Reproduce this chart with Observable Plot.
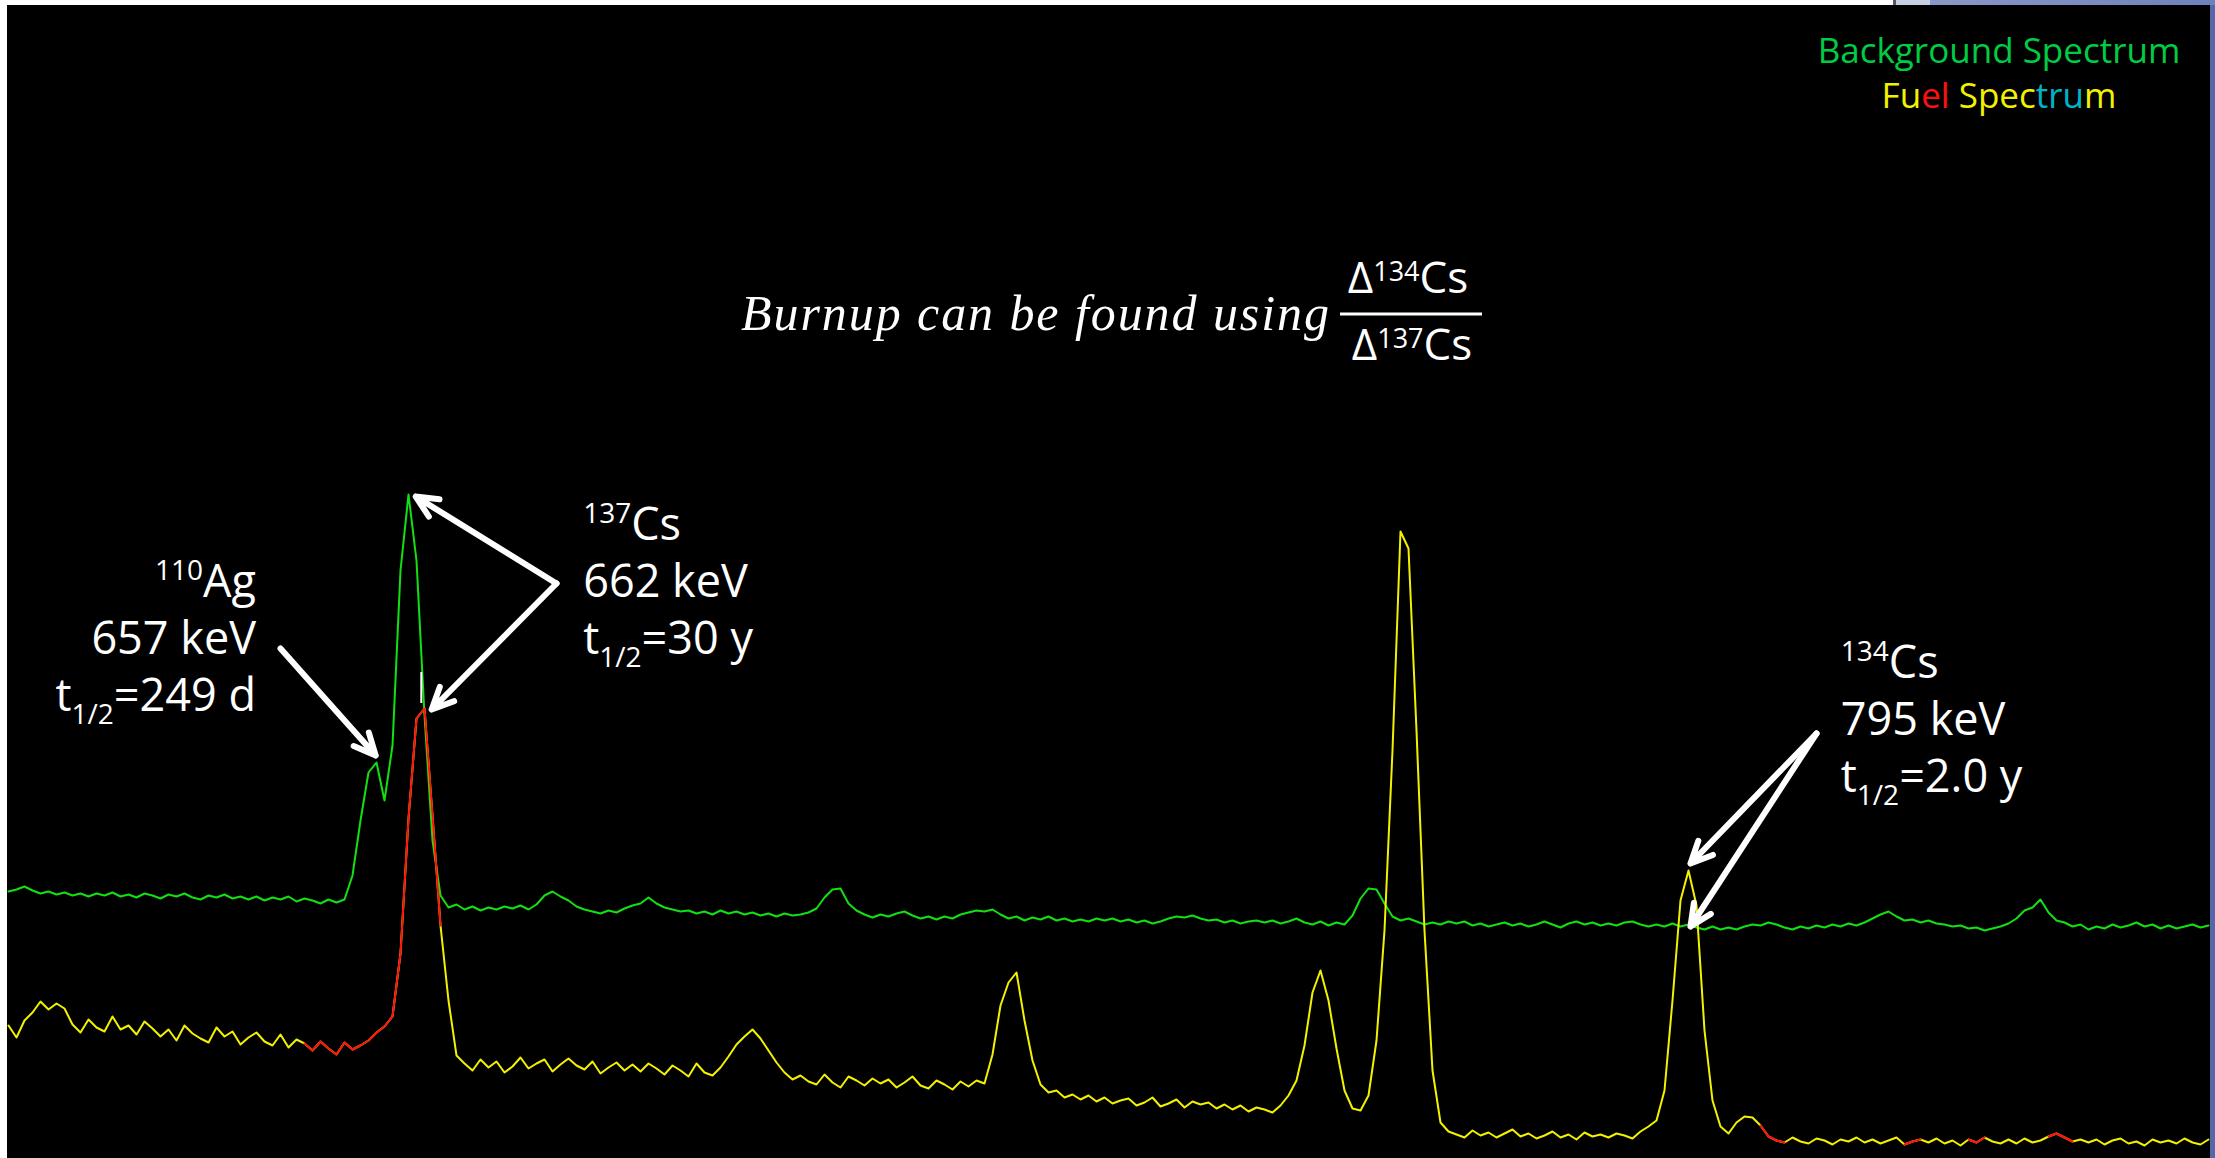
<!DOCTYPE html>
<html>
<head>
<meta charset="utf-8">
<script src="https://cdn.jsdelivr.net/npm/d3@7"></script>
<script src="https://cdn.jsdelivr.net/npm/@observablehq/plot@0.6"></script>
<style>
  html, body { margin: 0; padding: 0; background: #ffffff; }
  #wrap { position: relative; width: 2215px; height: 1158px; overflow: hidden; }
  #wrap svg { display: block; }
  .edge { position: absolute; }
  #edgeRight { right: 0; top: 0; width: 5px; height: 1158px; background: #5567a8; }
  #edgeTopA { left: 1893px; top: 0; width: 3px; height: 5px; background: #55585f; }
  #edgeTopB { left: 1896px; top: 0; width: 34px; height: 5px; background: #c7cfe4; }
  #edgeTopC { left: 1930px; top: 0; width: 285px; height: 5px; background: linear-gradient(90deg, #8a98c6, #6f81bb); }
</style>
</head>
<body>
<div id="wrap"></div>
<script>
// ---------------- DATA ----------------
// Background spectrum (green), counts per channel (arbitrary units)
const backgroundCounts = [
  267,269,272,268,265,267,264,266,263,265,
  262,265,263,266,262,264,261,265,263,260,
  264,262,265,261,259,263,261,264,260,262,
  259,262,258,261,259,262,257,260,258,255,
  259,256,259,283,338,386,396,358,413,588,
  664,598,443,318,263,251,254,249,252,248,
  251,249,252,250,253,249,254,263,267,262,
  258,252,249,247,245,248,246,250,253,255,
  261,255,251,249,247,248,245,247,244,248,
  245,247,244,246,243,245,242,245,243,244,
  246,250,261,269,270,255,248,244,241,244,
  242,245,247,243,240,242,239,242,240,244,
  246,248,247,249,244,240,242,238,241,239,
  242,238,240,237,239,237,240,238,240,237,
  239,236,238,235,237,240,242,241,243,240,
  238,239,236,238,235,237,238,236,238,235,
  237,240,236,234,237,233,236,234,243,260,
  270,269,255,242,238,240,237,234,236,234,
  237,235,237,233,235,232,234,236,233,235,
  232,234,237,234,231,235,237,234,236,233,
  235,233,236,237,234,232,234,232,235,232,
  234,231,229,232,229,231,229,232,234,233,
  236,234,231,229,232,230,233,231,234,232,
  235,233,236,240,244,247,242,238,239,236,
  238,235,234,232,233,230,231,228,230,232,
  235,240,248,251,259,246,238,236,232,234,
  229,232,230,234,231,233,236,232,234,230,
  233,230,232,234,231,233
];

// Fuel spectrum (yellow), counts per channel (arbitrary units)
const fuelCounts = [
  133,121,138,146,157,149,155,150,134,126,
  139,131,127,142,129,133,124,137,130,122,
  129,118,133,125,120,116,131,122,127,114,
  121,126,117,113,124,111,119,115,108,117,
  110,104,116,109,113,118,126,132,142,205,
  340,440,450,343,233,158,103,95,88,99,
  91,97,86,92,101,90,95,99,87,94,
  100,93,89,97,85,91,96,88,94,87,
  95,90,84,93,88,82,95,86,83,91,
  102,114,122,129,120,108,96,86,79,83,
  77,74,84,76,71,82,78,73,80,75,
  79,71,76,82,73,70,78,74,69,77,
  72,78,75,104,153,176,186,138,98,74,
  66,68,61,64,59,63,57,61,55,58,
  60,53,56,61,52,55,59,51,57,54,
  56,50,54,49,53,47,51,49,46,53,
  63,78,113,166,188,158,110,68,50,48,
  63,118,228,408,627,610,428,228,88,36,
  27,24,21,28,23,26,21,25,29,22,
  25,20,23,27,21,24,19,26,22,24,
  21,25,23,20,27,32,38,68,158,258,
  288,253,128,58,32,25,36,42,41,33,
  22,18,16,21,17,15,20,18,14,19,
  17,21,16,19,15,18,21,14,17,19,
  16,20,15,18,13,19,16,21,17,15,
  19,15,20,16,18,22,25,21,17,19,
  16,19,14,18,20,15,17,13,19,16,
  18,15,20,16,14,19
];

// Regions of interest of the fuel spectrum (shown in red), channel ranges
const fuelRoiStart = [37, 219, 237, 245, 255];
const fuelRoiEnd   = [54, 222, 239, 247, 258];

// Cursor mark on the 662 keV peak
const cursorChannel = [51.6];
const cursorLow = [455];
const cursorHigh = [486];

// Peak annotations
const isotopeMass    = ["110", "137", "134"];
const isotopeElement = ["Ag", "Cs", "Cs"];
const gammaEnergy    = ["657 keV", "662 keV", "795 keV"];
const halfLife       = ["249 d", "30 y", "2.0 y"];
const labelChannel   = [31, 71.9, 229.1];
const labelCount     = [561, 618, 480];

// Annotation arrows (from label to peak), channel / counts
const arrowFromChannel = [34, 68.5, 68.5, 226, 226];
const arrowFromCount   = [510, 575, 575, 425, 425];
const arrowToChannel   = [45.9, 50.9, 52.9, 210.25, 210.25];
const arrowToCount     = [403, 662, 449, 295, 232];

// Legend
const legendBackground = "Background Spectrum";
const legendFuelParts  = ["Fu", "el", " Spec", "tru", "m"];

// Formula
const formulaText = "Burnup can be found using";
const formulaNumerator = ["Δ", "134", "Cs"];
const formulaDenominator = ["Δ", "137", "Cs"];

// ---------------- TABLES ----------------
const background = backgroundCounts.map((counts, channel) => ({channel, counts}));
const fuel = fuelCounts.map((counts, channel) => ({channel, counts}));
const fuelRoi = fuelRoiStart.flatMap((a, roi) =>
  fuel.filter(d => d.channel >= a && d.channel <= fuelRoiEnd[roi]).map(d => ({...d, roi})));
const cursor = cursorChannel.map((c, i) => ({channel: c, lo: cursorLow[i], hi: cursorHigh[i]}));
const arrows = arrowToChannel.map((_, i) => ({
  x1: arrowFromChannel[i], y1: arrowFromCount[i], x2: arrowToChannel[i], y2: arrowToCount[i]
}));

// ---------------- STYLE ----------------
const GREEN = "#12e012", YELLOW = "#f2f200", RED = "#ff1010";
const SANS = "'Open Sans', 'Noto Sans', sans-serif";
const SERIF = "'Liberation Serif', 'DejaVu Serif', serif";

const plot = Plot.plot({
  width: 2215,
  height: 1158,
  marginLeft: 7, marginRight: 5, marginTop: 5, marginBottom: 0,
  x: {domain: [-0.125, 275.25], axis: null},
  y: {domain: [0, 1153], axis: null},
  style: {background: "#ffffff"},
  marks: [
    Plot.frame({fill: "black", stroke: "black"}),
    Plot.line(background, {x: "channel", y: "counts", stroke: GREEN, strokeWidth: 2}),
    Plot.line(fuel, {x: "channel", y: "counts", stroke: YELLOW, strokeWidth: 2}),
    Plot.line(fuelRoi, {x: "channel", y: "counts", z: "roi", stroke: RED, strokeWidth: 2}),
    Plot.ruleX(cursor, {x: "channel", y1: "lo", y2: "hi", stroke: "white", strokeWidth: 2}),
    Plot.arrow(arrows, {x1: "x1", y1: "y1", x2: "x2", y2: "y2", stroke: "white",
      strokeWidth: 6, headLength: 6, headAngle: 50})
  ]
});

const wrap = document.getElementById("wrap");
wrap.append(plot);
["edgeRight", "edgeTopA", "edgeTopB", "edgeTopC"].forEach(id => {
  const d = document.createElement("div"); d.id = id; d.className = "edge"; wrap.append(d);
});

// ---------------- TEXT ----------------
const svg = d3.select(plot);
const xs = plot.scale("x"), ys = plot.scale("y");
const g = svg.append("g").attr("class", "annotations");

function rich(parent, x, y, parts, {anchor = "start", size = 45, family = SANS, fill = "white", italic = false} = {}) {
  const t = parent.append("text")
    .attr("x", x).attr("y", y)
    .attr("text-anchor", anchor)
    .attr("font-family", family)
    .attr("font-size", size)
    .attr("fill", fill)
    .attr("font-style", italic ? "italic" : "normal")
    .style("white-space", "pre");
  let shift = 0;
  for (const p of parts) {
    const ts = t.append("tspan").text(p.text);
    if (p.size) ts.attr("font-size", p.size);
    if (p.fill) ts.attr("fill", p.fill);
    const s = p.shift || 0;
    if (s - shift) ts.attr("dy", s - shift);
    shift = s;
  }
  return t;
}

const LINE = 57, SUB = 28;
isotopeMass.forEach((m, i) => {
  const x = xs.apply(labelChannel[i]);
  const y = ys.apply(labelCount[i]);
  const anchor = i === 0 ? "end" : "start";
  rich(g, x, y, [{text: m, size: SUB, shift: -17}, {text: isotopeElement[i]}], {anchor});
  rich(g, x, y + LINE, [{text: gammaEnergy[i]}], {anchor});
  rich(g, x, y + 2 * LINE, [{text: "t"}, {text: "1/2", size: SUB, shift: 13}, {text: "=" + halfLife[i]}], {anchor});
});

// Legend
rich(g, 1999, 63, [{text: legendBackground}], {anchor: "middle", size: 35, fill: "#00cc44"});
const fuelColors = [YELLOW, RED, YELLOW, "#00b4c8", YELLOW];
rich(g, 1999, 108, legendFuelParts.map((t, i) => ({text: t, fill: fuelColors[i]})), {anchor: "middle", size: 35, fill: YELLOW});

// Formula
rich(g, 741, 330, [{text: formulaText}], {family: SERIF, italic: true, size: 50})
  .attr("textLength", 588).attr("lengthAdjust", "spacing");
rich(g, 1408, 293, [{text: formulaNumerator[0]}, {text: formulaNumerator[1], size: 27, shift: -12}, {text: formulaNumerator[2]}], {anchor: "middle", size: 44});
rich(g, 1412, 360, [{text: formulaDenominator[0]}, {text: formulaDenominator[1], size: 27, shift: -12}, {text: formulaDenominator[2]}], {anchor: "middle", size: 44});
g.append("line").attr("x1", 1340).attr("x2", 1482).attr("y1", 314).attr("y2", 314)
  .attr("stroke", "white").attr("stroke-width", 3);
</script>
</body>
</html>
